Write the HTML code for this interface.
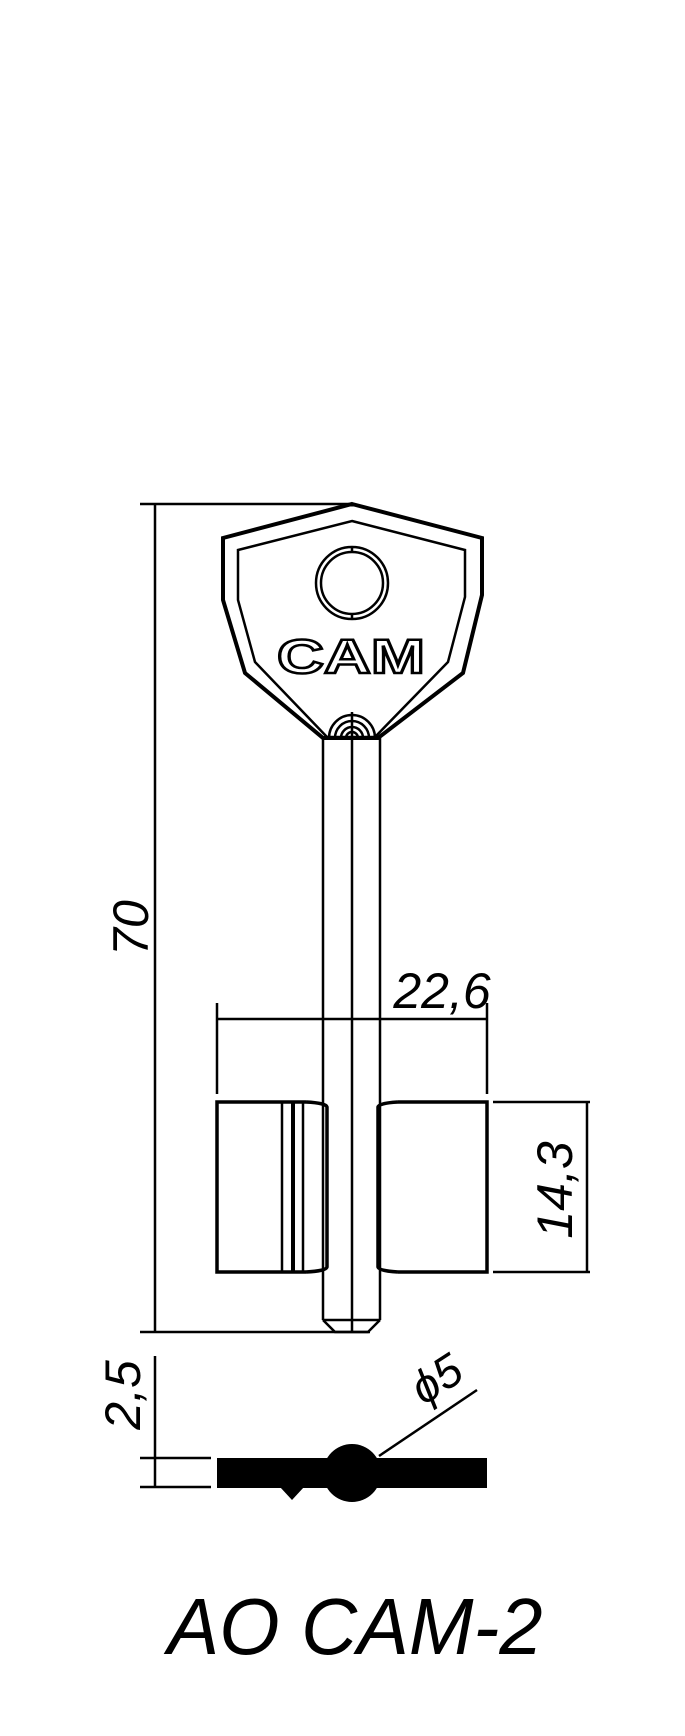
<!DOCTYPE html>
<html><head><meta charset="utf-8"><style>
html,body{margin:0;padding:0;background:#fff;}
svg{display:block;}
text{font-family:"Liberation Sans",sans-serif;font-style:italic;}
</style></head><body>
<svg width="685" height="1736" viewBox="0 0 685 1736" xmlns="http://www.w3.org/2000/svg">
<g fill="none" stroke="#000" stroke-width="2.5">
<line x1="140" y1="504" x2="352" y2="504"/>
<line x1="155" y1="504" x2="155" y2="1332"/>
<line x1="140" y1="1332" x2="370" y2="1332"/>
<polygon points="352,504 482,538 482,595 463,673 378,738 323,738 245,673 223,600 223,538" stroke-width="4"/>
<polygon points="352,521 465,550 465,597 448,662 375,737 327,737 255,662 238,600 238,550" stroke-width="2.5"/>
<circle cx="352" cy="583" r="36"/>
<circle cx="352" cy="583" r="31"/>
<line x1="352" y1="547" x2="352" y2="552"/>
<line x1="352" y1="614" x2="352" y2="619"/>
<path d="M329,738 A23,23 0 0 1 375,738"/>
<path d="M335,738 A17,17 0 0 1 369,738"/>
<path d="M341,738 A11,11 0 0 1 363,738"/>
<path d="M346,738 A6,6 0 0 1 358,738"/>
<line x1="323" y1="738" x2="323" y2="1320"/>
<line x1="380" y1="738" x2="380" y2="1320"/>
<line x1="352" y1="712" x2="352" y2="1332"/>
<line x1="323" y1="1320" x2="380" y2="1320"/>
<polyline points="323,1320 335,1332 368,1332 380,1320"/>
<line x1="217" y1="1003" x2="217" y2="1094"/>
<line x1="487" y1="1003" x2="487" y2="1094"/>
<line x1="217" y1="1019" x2="487" y2="1019"/>
<path d="M306,1102 L217,1102 L217,1272 L306,1272" stroke-width="3.5"/>
<path d="M306,1102 Q326,1103 327,1107 L327,1267 Q326,1271 306,1272" stroke-width="3.5"/>
<line x1="282" y1="1102" x2="282" y2="1272"/>
<line x1="293" y1="1102" x2="293" y2="1272" stroke-width="4"/>
<line x1="303" y1="1102" x2="303" y2="1272"/>
<path d="M398,1102 L487,1102 L487,1272 L398,1272" stroke-width="3.5"/>
<path d="M398,1102 Q379,1103 378,1107 L378,1267 Q379,1271 398,1272" stroke-width="3.5"/>
<line x1="493" y1="1102" x2="590" y2="1102"/>
<line x1="493" y1="1272" x2="590" y2="1272"/>
<line x1="587" y1="1102" x2="587" y2="1272"/>
<line x1="155" y1="1356" x2="155" y2="1487"/>
<line x1="140" y1="1458" x2="211" y2="1458"/>
<line x1="140" y1="1487" x2="211" y2="1487"/>
<line x1="379" y1="1456" x2="477" y2="1390"/>
</g>
<rect x="217" y="1458" width="270" height="30" fill="#000"/>
<circle cx="352" cy="1473" r="29" fill="#000"/>
<polygon points="280,1487 304,1487 292,1500" fill="#000"/>
<text x="351" y="673" text-anchor="middle" font-size="48" font-weight="bold" style="font-style:normal;fill:#fff;stroke:#000;stroke-width:2.5" textLength="148" lengthAdjust="spacingAndGlyphs">CAM</text>
<g style="fill:#000">
<text x="442" y="1008" text-anchor="middle" font-size="50">22,6</text>
<text transform="translate(572,1190) rotate(-90)" text-anchor="middle" font-size="50">14,3</text>
<text transform="translate(148,928) rotate(-90)" text-anchor="middle" font-size="50">70</text>
<text transform="translate(140,1395) rotate(-90)" text-anchor="middle" font-size="50">2,5</text>
<text transform="translate(445,1392) rotate(-33)" text-anchor="middle" font-size="46">ϕ5</text>
<text x="355" y="1654" text-anchor="middle" font-size="80" textLength="375" lengthAdjust="spacingAndGlyphs">AO CAM-2</text>
</g>
</svg>
</body></html>
